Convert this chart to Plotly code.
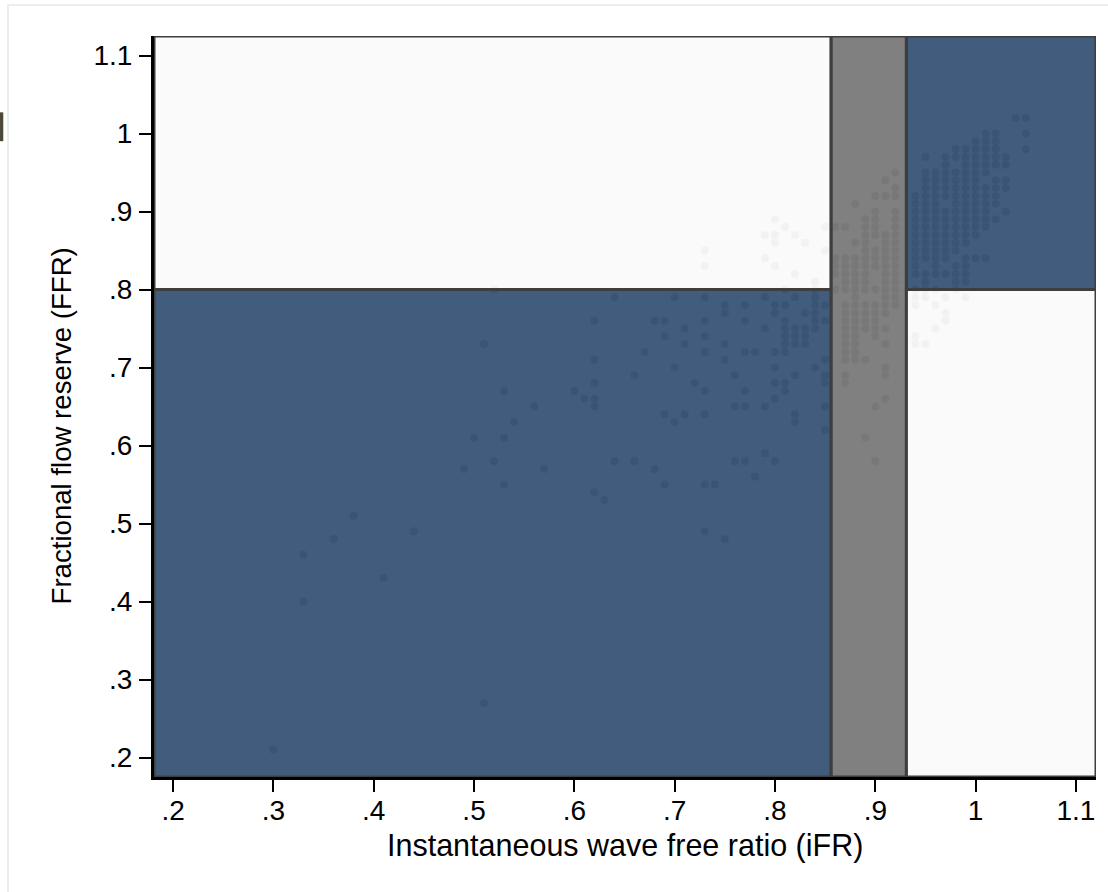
import plotly.graph_objects as go

# ---------------- data ----------------
# FFR value -> list of iFR values observed at that FFR
FFR_TO_IFR = {
    1.02: [1.04, 1.05],
    1.00: [1.01, 1.02, 1.05],
    0.99: [1.00, 1.01, 1.02],
    0.98: [0.98, 0.99, 1.00, 1.01, 1.02, 1.05],
    0.97: [0.95, 0.97, 0.98, 0.99, 1.00, 1.01, 1.02, 1.03],
    0.96: [0.97, 0.99, 1.00, 1.01, 1.02, 1.03],
    0.95: [0.92, 0.95, 0.96, 0.97, 0.98, 0.99, 1.00, 1.01],
    0.94: [0.91, 0.95, 0.96, 0.97, 0.98, 0.99, 1.00, 1.02, 1.03],
    0.93: [0.92, 0.95, 0.96, 0.97, 0.98, 0.99, 1.00, 1.01, 1.02, 1.03],
    0.92: [0.90, 0.91, 0.92, 0.94, 0.95, 0.96, 0.97, 0.98, 0.99, 1.00, 1.01, 1.02],
    0.91: [0.88, 0.94, 0.95, 0.96, 0.98, 0.99, 1.00, 1.01, 1.02],
    0.90: [0.90, 0.92, 0.94, 0.95, 0.96, 0.97, 0.98, 0.99, 1.00, 1.01, 1.03],
    0.89: [0.80, 0.89, 0.90, 0.92, 0.94, 0.95, 0.96, 0.97, 0.98, 0.99, 1.00, 1.01, 1.02],
    0.88: [0.81, 0.85, 0.86, 0.87, 0.89, 0.90, 0.92, 0.94, 0.95, 0.96, 0.97, 0.98, 0.99, 1.00, 1.01],
    0.87: [0.79, 0.80, 0.82, 0.89, 0.90, 0.91, 0.92, 0.94, 0.95, 0.96, 0.97, 0.98, 0.99, 1.00],
    0.86: [0.80, 0.83, 0.88, 0.89, 0.91, 0.92, 0.94, 0.95, 0.96, 0.97, 0.98, 0.99],
    0.85: [0.73, 0.85, 0.89, 0.90, 0.91, 0.92, 0.94, 0.95, 0.96, 0.97, 0.98],
    0.84: [0.79, 0.86, 0.87, 0.88, 0.89, 0.90, 0.91, 0.92, 0.94, 0.95, 0.96, 0.97, 0.99, 1.00, 1.01],
    0.83: [0.73, 0.80, 0.86, 0.87, 0.88, 0.89, 0.90, 0.91, 0.92, 0.94, 0.96, 0.98, 0.99],
    0.82: [0.82, 0.86, 0.87, 0.88, 0.89, 0.91, 0.92, 0.94, 0.95, 0.96, 0.97, 0.98, 0.99],
    0.81: [0.84, 0.87, 0.88, 0.89, 0.91, 0.92, 0.95, 0.98, 0.99],
    0.80: [0.52, 0.81, 0.84, 0.86, 0.87, 0.88, 0.89, 0.90, 0.91, 0.92, 0.94, 0.95, 0.96, 0.98],
    0.79: [0.64, 0.70, 0.73, 0.79, 0.82, 0.84, 0.88, 0.91, 0.92, 0.94, 0.95, 0.97, 0.99],
    0.78: [0.75, 0.77, 0.80, 0.81, 0.84, 0.85, 0.87, 0.88, 0.89, 0.90, 0.91, 0.92, 0.94, 0.96],
    0.77: [0.75, 0.80, 0.83, 0.84, 0.87, 0.88, 0.89, 0.90, 0.91, 0.97],
    0.76: [0.62, 0.68, 0.69, 0.73, 0.77, 0.81, 0.84, 0.85, 0.87, 0.88, 0.89, 0.90, 0.97],
    0.75: [0.71, 0.79, 0.81, 0.82, 0.83, 0.84, 0.87, 0.88, 0.89, 0.90, 0.91, 0.96],
    0.74: [0.69, 0.73, 0.81, 0.82, 0.83, 0.87, 0.88, 0.90, 0.94],
    0.73: [0.51, 0.71, 0.75, 0.81, 0.82, 0.83, 0.87, 0.88, 0.91, 0.94, 0.95],
    0.72: [0.67, 0.73, 0.77, 0.78, 0.80, 0.81, 0.87, 0.88],
    0.71: [0.62, 0.75, 0.85, 0.87, 0.88, 0.89],
    0.70: [0.70, 0.80, 0.84, 0.91],
    0.69: [0.66, 0.76, 0.82, 0.85, 0.87, 0.91],
    0.68: [0.62, 0.72, 0.80, 0.81, 0.85, 0.87],
    0.67: [0.53, 0.60, 0.73, 0.77, 0.81],
    0.66: [0.61, 0.62, 0.80, 0.91],
    0.65: [0.56, 0.62, 0.76, 0.77, 0.79, 0.85, 0.90],
    0.64: [0.69, 0.71, 0.73, 0.82],
    0.63: [0.54, 0.70, 0.82],
    0.62: [0.85],
    0.61: [0.50, 0.53, 0.89],
    0.59: [0.79],
    0.58: [0.52, 0.64, 0.66, 0.76, 0.77, 0.80, 0.90],
    0.57: [0.49, 0.57, 0.68],
    0.56: [0.78],
    0.55: [0.53, 0.69, 0.73, 0.74],
    0.54: [0.62],
    0.53: [0.63],
    0.51: [0.38],
    0.49: [0.44, 0.73],
    0.48: [0.36, 0.75],
    0.46: [0.33],
    0.43: [0.41],
    0.40: [0.33],
    0.27: [0.51],
    0.21: [0.30],
}

# Classification thresholds
IFR_HYBRID_LOW = 0.856
IFR_HYBRID_HIGH = 0.931
FFR_CUTOFF = 0.80

X_RANGE = [0.181, 1.12]
Y_RANGE = [0.175, 1.125]

TICK_VALS = [0.2, 0.3, 0.4, 0.5, 0.6, 0.7, 0.8, 0.9, 1.0, 1.1]
TICK_TEXT = [".2", ".3", ".4", ".5", ".6", ".7", ".8", ".9", "1", "1.1"]

X_TITLE = "Instantaneous wave free ratio (iFR)"
Y_TITLE = "Fractional flow reserve (FFR)"

# ---------------- build ----------------
ifr_vals, ffr_vals = [], []
for ffr, ifrs in FFR_TO_IFR.items():
    for v in ifrs:
        ifr_vals.append(v)
        ffr_vals.append(ffr)

ALPHA = 0.93
BLUE = f"rgba(52,80,116,{ALPHA})"
WHITE = f"rgba(250,250,250,{ALPHA})"
GREY = f"rgba(118,118,118,{ALPHA})"
EDGE = "#3e3e3e"
FONT = "Liberation Sans, Arial, Helvetica, sans-serif"

fig = go.Figure()
fig.add_trace(go.Scatter(
    x=ifr_vals, y=ffr_vals, mode="markers",
    marker=dict(size=8, color="#8d8d8d", line=dict(width=0)),
    hoverinfo="x+y", showlegend=False,
))

zones = [
    (X_RANGE[0], IFR_HYBRID_LOW, Y_RANGE[0], FFR_CUTOFF, BLUE),
    (X_RANGE[0], IFR_HYBRID_LOW, FFR_CUTOFF, Y_RANGE[1], WHITE),
    (IFR_HYBRID_LOW, IFR_HYBRID_HIGH, Y_RANGE[0], Y_RANGE[1], GREY),
    (IFR_HYBRID_HIGH, X_RANGE[1], FFR_CUTOFF, Y_RANGE[1], BLUE),
    (IFR_HYBRID_HIGH, X_RANGE[1], Y_RANGE[0], FFR_CUTOFF, WHITE),
]
for x0, x1, y0, y1, fill in zones:
    fig.add_shape(type="rect", xref="x", yref="y", x0=x0, x1=x1, y0=y0, y1=y1,
                  fillcolor=fill, line=dict(color=EDGE, width=3), layer="above")

# outer light frame and small dark mark at left edge
fig.add_shape(type="rect", xref="paper", yref="paper",
              x0=-0.155, x1=1.02, y0=-0.2, y1=1.0418,
              line=dict(color="#e4e9e9", width=1.5), fillcolor="rgba(0,0,0,0)", layer="below")
fig.add_shape(type="rect", xref="paper", yref="paper",
              x0=-0.1635, x1=-0.1600, y0=0.858, y1=0.897,
              line=dict(width=0), fillcolor="#4b4a38", layer="above")

axis_common = dict(
    tickvals=TICK_VALS, ticktext=TICK_TEXT,
    ticks="outside", ticklen=12, tickwidth=2, tickcolor="black",
    showline=True, linecolor="black", linewidth=3,
    showgrid=False, zeroline=False,
    tickfont=dict(family=FONT, size=28, color="black"),
)

fig.update_layout(
    width=1108, height=892,
    margin=dict(l=154, r=12, t=36, b=115),
    paper_bgcolor="white", plot_bgcolor="white",
    xaxis=dict(range=X_RANGE, ticklabelstandoff=-6, **axis_common),
    yaxis=dict(range=Y_RANGE, ticklabelstandoff=1, **axis_common),
    font=dict(family=FONT, color="black"),
    annotations=[
        dict(text=X_TITLE, xref="paper", yref="paper", x=0.5, y=-0.092,
             xanchor="center", yanchor="middle", showarrow=False,
             font=dict(size=30.5, color="black")),
        dict(text=Y_TITLE, xref="paper", yref="paper", x=-0.098, y=0.474,
             xanchor="center", yanchor="middle", showarrow=False, textangle=-90,
             font=dict(size=27.6, color="black")),
    ],
)

fig.write_html("out.html", config={"displayModeBar": False},
               post_script="document.body.style.margin='0';")
